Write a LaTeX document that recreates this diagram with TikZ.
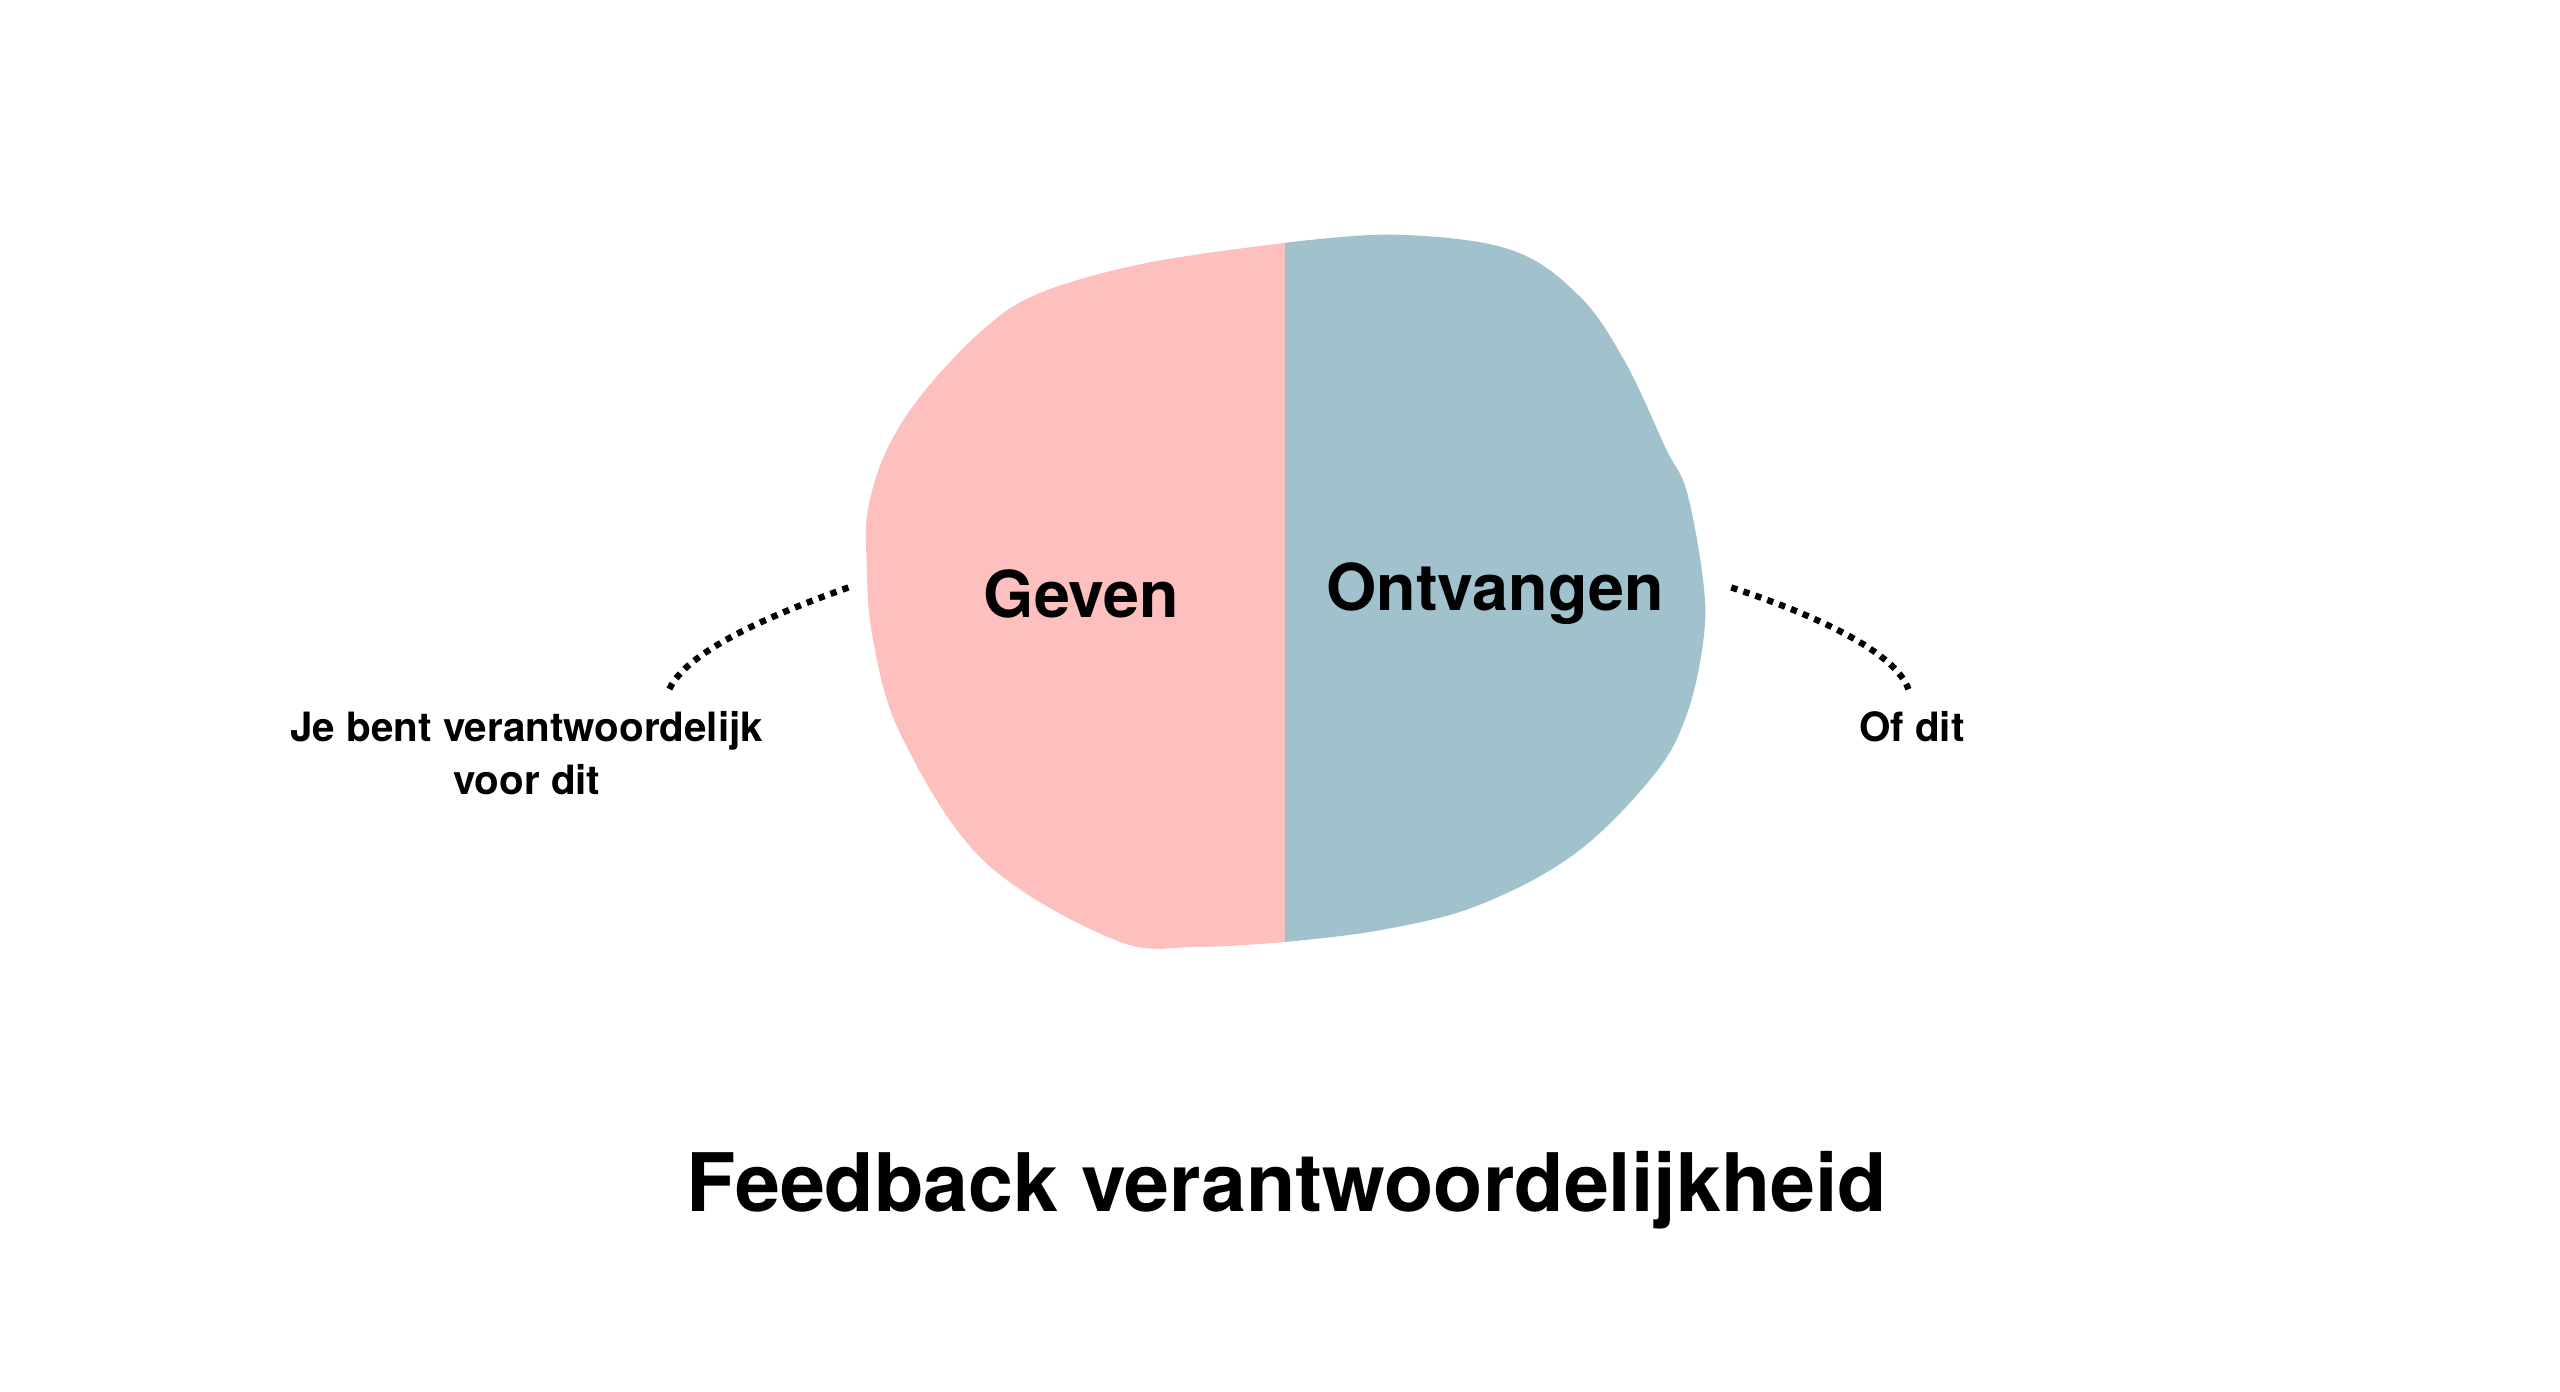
\documentclass[tikz,border=0pt]{standalone}
\usepackage{fontspec}
\setmainfont{TeX Gyre Heros}
\begin{document}
\begin{tikzpicture}[x=0.05cm,y=-0.05cm,
  lbl/.style={font=\bfseries\fontsize{35}{46}\selectfont,align=center,inner sep=0},
  big/.style={font=\bfseries\fontsize{56}{64}\selectfont,inner sep=0},
  dots/.style={line width=5.5pt,dash pattern=on 5.5pt off 5.5pt}]
\useasboundingbox (0,0) rectangle (1560,848);
\fill[fill={rgb,255:red,253;green,192;blue,191}] plot[smooth,tension=0.6] coordinates {(783,148) (700,160) (635,178) (600,200) (562,240) (540,275) (529,310) (528,340) (532,390) (550,450) (600,525) (680,573) (730,577) (783,574)} -- cycle;
\fill[fill={rgb,255:red,161;green,194;blue,204}] plot[smooth,tension=0.6] coordinates {(783,148) (850,143) (920,152) (962,180) (990,220) (1015,273) (1028,300) (1038,355) (1038,390) (1028,435) (1008,472) (960,520) (900,552) (840,567) (783,574)} -- cycle;
\node[big] (g) at (659,362) {Geven};
\node[big] (o) at (911,362) {Ontvangen};
\node[lbl] (l) at (321,459) {Je bent verantwoordelijk\\voor dit};
\node[lbl] (r) at (1165,443) {Of dit};
\node[font=\bfseries\fontsize{70}{80}\selectfont,inner sep=0] (t) at (784,725) {Feedback verantwoordelijkheid};
\coordinate (a1) at (517,358); \coordinate (a2) at (407,422);
\coordinate (b1) at (1055,358); \coordinate (b2) at (1163,420);
\draw[dots] (a1) .. controls (460,378) and (415,400) .. (a2);
\draw[dots] (b1) .. controls (1110,376) and (1155,398) .. (b2);
\end{tikzpicture}
\end{document}
